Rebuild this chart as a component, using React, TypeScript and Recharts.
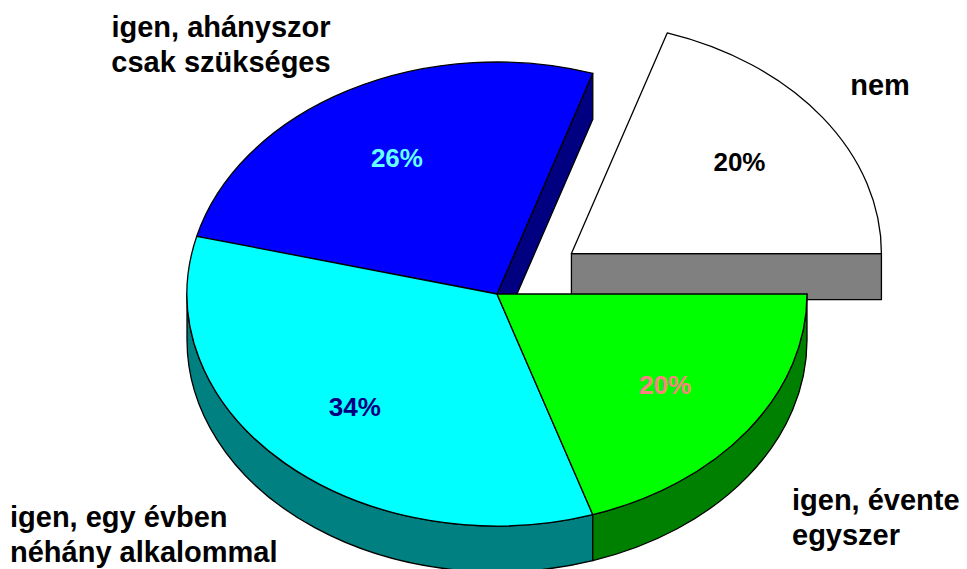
import { PieChart, Pie } from "recharts";

const CATEGORIES = [
  "nem",
  "igen, ahányszor csak szükséges",
  "igen, egy évben néhány alkalommal",
  "igen, évente egyszer",
];
const SHARES = [20, 26, 34, 20];

const TOP_COLORS = ["#FFFFFF", "#0000FF", "#00FFFF", "#00FF00"];
const SIDE_COLORS = ["#808080", "#000080", "#008080", "#008000"];
const PCT_COLORS = ["#000000", "#66FFFF", "#000080", "#FF8080"];
const EXPLODED = "nem";

// callout text for each slice: lines, anchor and baseline of the first line
const CALLOUTS: Record<string, { lines: string[]; x: number; y: number; anchor: "start" | "middle" | "end" }> = {
  nem: { lines: ["nem"], x: 880, y: 95, anchor: "middle" },
  "igen, ahányszor csak szükséges": { lines: ["igen, ahányszor", "csak szükséges"], x: 221, y: 37, anchor: "middle" },
  "igen, egy évben néhány alkalommal": { lines: ["igen, egy évben", "néhány alkalommal"], x: 10, y: 527, anchor: "start" },
  "igen, évente egyszer": { lines: ["igen, évente", "egyszer"], x: 792, y: 510, anchor: "start" },
};

const data = CATEGORIES.map((name, i) => ({ name, value: SHARES[i] }));

const W = 967;
const H = 569;
const TILT = 232 / 310;
const DEPTH = 46;
const EXPLODE = 92;
const FONT = "'Liberation Sans', Arial, sans-serif";
const RAD = Math.PI / 180;

function renderSlice(props: any) {
  const { cx, cy, outerRadius, startAngle, endAngle, midAngle, index, percent, name } = props;
  const n = CATEGORIES.length;
  const rx = outerRadius;
  const ry = outerRadius * TILT;
  const exploded = name === EXPLODED;
  const ox = exploded ? EXPLODE * Math.cos(midAngle * RAD) : 0;
  const oy = exploded ? -EXPLODE * TILT * Math.sin(midAngle * RAD) : 0;
  const c = [cx + ox, cy + oy];
  const p = (a: number, d = 0) => [c[0] + rx * Math.cos(a * RAD), c[1] - ry * Math.sin(a * RAD) + d];
  const sa = Math.min(startAngle, endAngle);
  const ea = Math.max(startAngle, endAngle);

  const prevExploded = CATEGORIES[(index - 1 + n) % n] === EXPLODED;
  const nextExploded = CATEGORIES[(index + 1) % n] === EXPLODED;

  const faces: string[] = [];
  const radial = (a: number) => {
    const [x1, y1] = p(a);
    return `M${c[0]},${c[1]} L${x1},${y1} L${x1},${y1 + DEPTH} L${c[0]},${c[1] + DEPTH} Z`;
  };
  if ((exploded || prevExploded) && Math.cos(sa * RAD) > 0.001) faces.push(radial(sa));
  if ((exploded || nextExploded) && Math.cos(ea * RAD) < -0.001) faces.push(radial(ea));

  let wall = "";
  const a1 = Math.max(sa, 180);
  const a2 = Math.min(ea, 360);
  if (a2 > a1) {
    const [x1, y1] = p(a1);
    const [x2, y2] = p(a2);
    wall = `M${x1},${y1} A${rx},${ry} 0 0 0 ${x2},${y2} L${x2},${y2 + DEPTH} A${rx},${ry} 0 0 1 ${x1},${y1 + DEPTH} Z`;
  }

  const [sx, sy] = p(sa);
  const [ex, ey] = p(ea);
  const large = ea - sa > 180 ? 1 : 0;
  const top = `M${c[0]},${c[1]} L${sx},${sy} A${rx},${ry} 0 ${large} 0 ${ex},${ey} Z`;

  const tx = c[0] + 0.67 * rx * Math.cos(midAngle * RAD);
  const ty = c[1] - 0.67 * ry * Math.sin(midAngle * RAD);
  const callout = CALLOUTS[name];

  return (
    <g key={`slice-${index}`}>
      {faces.map((d, k) => (
        <path key={k} d={d} fill={SIDE_COLORS[index]} stroke="#000" strokeWidth={1.3} strokeLinejoin="round" />
      ))}
      {wall && <path d={wall} fill={SIDE_COLORS[index]} stroke="#000" strokeWidth={1.3} strokeLinejoin="round" />}
      <path d={top} fill={TOP_COLORS[index]} stroke="#000" strokeWidth={1.3} strokeLinejoin="round" />
      <text
        x={tx}
        y={ty + 9}
        textAnchor="middle"
        fill={PCT_COLORS[index]}
        fontFamily={FONT}
        fontWeight="bold"
        fontSize={26}
      >
        {`${Math.round(percent * 100)}%`}
      </text>
      {callout && (
        <text
          x={callout.x}
          y={callout.y}
          textAnchor={callout.anchor}
          fill="#000"
          fontFamily={FONT}
          fontWeight="bold"
          fontSize={29}
        >
          {callout.lines.map((line, k) => (
            <tspan key={k} x={callout.x} dy={k === 0 ? 0 : 35}>
              {line}
            </tspan>
          ))}
        </text>
      )}
    </g>
  );
}

export default function App() {
  return (
    <div style={{ position: "absolute", left: 0, top: 0, width: W, height: H, background: "#fff" }}>
      <PieChart width={W} height={H} margin={{ top: 0, right: 0, bottom: 0, left: 0 }}>
        <Pie
          data={data}
          dataKey="value"
          nameKey="name"
          cx={497}
          cy={294}
          outerRadius={310}
          startAngle={0}
          endAngle={360}
          fill="none"
          stroke="none"
          label={renderSlice}
          labelLine={false}
          isAnimationActive={false}
        />
      </PieChart>
    </div>
  );
}
